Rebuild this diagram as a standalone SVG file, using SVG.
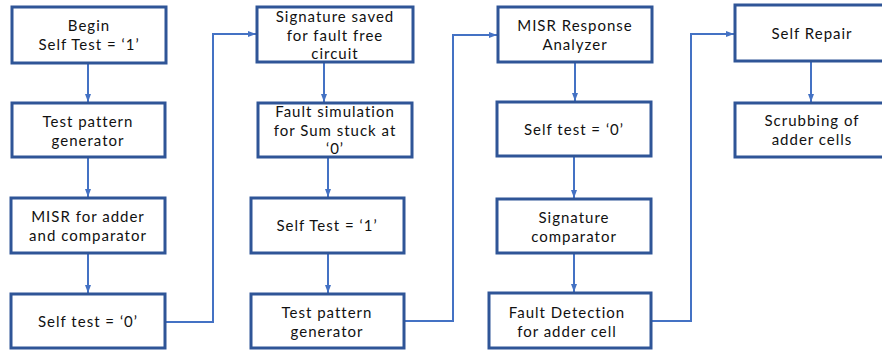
<svg xmlns="http://www.w3.org/2000/svg" width="882" height="352" viewBox="0 0 882 352">
<defs>
<style>
.box{fill:#fff;stroke:#2F5597;stroke-width:3}
.t{font-family:Lato,"Open Sans","Liberation Sans",sans-serif;font-size:15px;letter-spacing:1px;fill:#111;text-anchor:middle}
.c{fill:none;stroke:#4472C4;stroke-width:2}
</style>
<marker id="ah" markerUnits="userSpaceOnUse" markerWidth="8" markerHeight="8" viewBox="0 0 8 8" refX="8" refY="4" orient="auto">
<path d="M0,1 L8,4 L0,7 Z" fill="#4472C4"/>
</marker>
</defs>
<rect width="882" height="352" fill="#fff"/>
<g id="connectors">
<path class="c" d="M88,63 V102" marker-end="url(#ah)"/>
<path class="c" d="M88,157 V197" marker-end="url(#ah)"/>
<path class="c" d="M88,253 V293" marker-end="url(#ah)"/>
<path class="c" d="M165,322 H213 V34 H256" marker-end="url(#ah)"/>
<path class="c" d="M324,62 V102" marker-end="url(#ah)"/>
<path class="c" d="M328,157 V197" marker-end="url(#ah)"/>
<path class="c" d="M328,253 V293" marker-end="url(#ah)"/>
<path class="c" d="M404,321 H453 V35 H497" marker-end="url(#ah)"/>
<path class="c" d="M575,62 V101" marker-end="url(#ah)"/>
<path class="c" d="M574,156 V198" marker-end="url(#ah)"/>
<path class="c" d="M574,253 V292" marker-end="url(#ah)"/>
<path class="c" d="M651,321 H691 V34 H734" marker-end="url(#ah)"/>
<path class="c" d="M811,61 V102" marker-end="url(#ah)"/>
</g>
<g id="n1"><rect class="box" x="12" y="7" width="154" height="56"/><text class="t" x="89" y="31">Begin</text><text class="t" x="89" y="50">Self Test = ‘1’</text></g>
<g id="n2"><rect class="box" x="12" y="103" width="153" height="54"/><text class="t" x="88" y="127">Test pattern</text><text class="t" x="88" y="146">generator</text></g>
<g id="n3"><rect class="box" x="11" y="198" width="154" height="55"/><text class="t" x="88" y="222">MISR for adder</text><text class="t" x="88" y="241">and comparator</text></g>
<g id="n4"><rect class="box" x="11" y="294" width="154" height="54"/><text class="t" x="88" y="327">Self test = ‘0’</text></g>
<g id="n5"><rect class="box" x="257" y="7" width="156" height="55"/><text class="t" x="335" y="22">Signature saved</text><text class="t" x="335" y="40.5">for fault free</text><text class="t" x="335" y="59">circuit</text></g>
<g id="n6"><rect class="box" x="258" y="103" width="154" height="54"/><text class="t" x="335" y="117">Fault simulation</text><text class="t" x="335" y="135.5">for Sum stuck at</text><text class="t" x="335" y="154">‘0’</text></g>
<g id="n7"><rect class="box" x="251" y="198" width="153" height="55"/><text class="t" x="327" y="231">Self Test = ‘1’</text></g>
<g id="n8"><rect class="box" x="251" y="294" width="153" height="54"/><text class="t" x="327" y="318">Test pattern</text><text class="t" x="327" y="337">generator</text></g>
<g id="n9"><rect class="box" x="498" y="7" width="154" height="55"/><text class="t" x="575" y="31">MISR Response</text><text class="t" x="575" y="50">Analyzer</text></g>
<g id="n10"><rect class="box" x="497" y="102" width="154" height="54"/><text class="t" x="574" y="135">Self test = ‘0’</text></g>
<g id="n11"><rect class="box" x="497" y="199" width="154" height="54"/><text class="t" x="574" y="223">Signature</text><text class="t" x="574" y="242">comparator</text></g>
<g id="n12"><rect class="box" x="489" y="293" width="162" height="55"/><text class="t" x="567" y="318">Fault Detection</text><text class="t" x="567" y="337">for adder cell</text></g>
<g id="n13"><rect class="box" x="735" y="5" width="154" height="56"/><text class="t" x="812" y="39">Self Repair</text></g>
<g id="n14"><rect class="box" x="735" y="103" width="154" height="54"/><text class="t" x="812" y="126">Scrubbing of</text><text class="t" x="812" y="145">adder cells</text></g>
</svg>
